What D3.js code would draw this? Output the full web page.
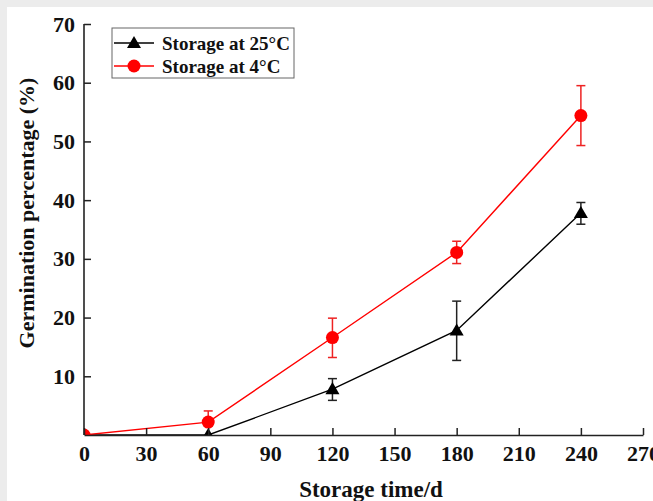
<!DOCTYPE html>
<html>
<head>
<meta charset="utf-8">
<script src="https://cdn.jsdelivr.net/npm/d3@7"></script>
<style>
  html, body { margin: 0; padding: 0; background: #ffffff; }
  svg { display: block; }
  text { font-family: "Liberation Serif", "Times New Roman", serif; font-weight: bold; fill: #111; }
</style>
</head>
<body>
<svg id="chart" width="653" height="501"></svg>
<script>
// ---- data ----
const days = [0, 60, 120, 180, 240];
const storage25 = [0, 0, 7.8, 17.8, 37.8];
const storage25ErrUp = [0, 0, 1.8, 5.0, 1.8];
const storage25ErrDown = [0, 0, 1.9, 5.1, 1.9];
const storage4 = [0, 2.2, 16.6, 31.1, 54.4];
const storage4ErrUp = [0, 1.9, 3.3, 1.9, 5.1];
const storage4ErrDown = [0, 0, 3.4, 1.9, 5.1];
const xTicks = [0, 30, 60, 90, 120, 150, 180, 210, 240, 270];
const yTicks = [10, 20, 30, 40, 50, 60, 70];
const seriesNames = ["Storage at 25\u00B0C", "Storage at 4\u00B0C"];

// ---- layout ----
const svg = d3.select("#chart");
const W = 653, H = 501;
const pLeft = 84, pRight = 643, pTop = 24, pBottom = 435;

// gray frame strips
svg.append("rect").attr("x", 0).attr("y", 0).attr("width", W).attr("height", 7).attr("fill", "#ececec");
svg.append("rect").attr("x", 0).attr("y", 0).attr("width", 7).attr("height", H).attr("fill", "#ececec");

const x = d3.scaleLinear().domain([0, 270]).range([pLeft, pRight]);
const y = d3.scaleLinear().domain([0, 70]).range([pBottom, pTop]);

svg.append("defs").append("clipPath").attr("id", "plotclip")
  .append("rect").attr("x", pLeft).attr("y", pTop).attr("width", pRight - pLeft).attr("height", pBottom - pTop);

const plot = svg.append("g").attr("clip-path", "url(#plotclip)");

const series = [
  { name: seriesNames[0], vals: storage25, up: storage25ErrUp, down: storage25ErrDown, color: "#000000", errColor: "#222222", shape: "tri" },
  { name: seriesNames[1], vals: storage4, up: storage4ErrUp, down: storage4ErrDown, color: "#ff0000", errColor: "#ee2222", shape: "circle" }
];

const line = d3.line().x(d => x(d[0])).y(d => y(d[1]));
const triSym = d3.symbol().type(d3.symbolTriangle).size(85);

series.forEach(s => {
  const pts = days.map((d, i) => [d, s.vals[i], s.up[i], s.down[i]]);
  plot.append("path").datum(pts).attr("d", line)
    .attr("fill", "none").attr("stroke", s.color).attr("stroke-width", 1.4);
});

series.forEach(s => {
  const pts = days.map((d, i) => [d, s.vals[i], s.up[i], s.down[i]]);
  const g = plot.append("g");
  const cap = 4.5;
  pts.filter(p => p[2] > 0 || p[3] > 0).forEach(p => {
    const cx = x(p[0]);
    const yu = y(p[1] + p[2]), yd = y(p[1] - p[3]);
    g.append("line").attr("x1", cx).attr("x2", cx).attr("y1", yu).attr("y2", yd)
      .attr("stroke", s.errColor).attr("stroke-width", 1.5);
    if (p[2] > 0) g.append("line").attr("x1", cx - cap).attr("x2", cx + cap).attr("y1", yu).attr("y2", yu)
      .attr("stroke", s.errColor).attr("stroke-width", 1.5);
    if (p[3] > 0) g.append("line").attr("x1", cx - cap).attr("x2", cx + cap).attr("y1", yd).attr("y2", yd)
      .attr("stroke", s.errColor).attr("stroke-width", 1.5);
  });
});

series.forEach(s => {
  const pts = days.map((d, i) => [d, s.vals[i]]);
  const g = plot.append("g");
  if (s.shape === "tri") {
    g.selectAll("path").data(pts).join("path")
      .attr("d", triSym)
      .attr("transform", d => `translate(${x(d[0])},${y(d[1]) + 1})`)
      .attr("fill", s.color);
  } else {
    g.selectAll("circle").data(pts).join("circle")
      .attr("cx", d => x(d[0])).attr("cy", d => y(d[1])).attr("r", 6.5)
      .attr("fill", s.color);
  }
});

// ---- axes ----
const xAxis = d3.axisBottom(x).tickValues(xTicks).tickSizeInner(-7).tickSizeOuter(0).tickPadding(10);
const yAxis = d3.axisLeft(y).tickValues(yTicks).tickSizeInner(-7).tickSizeOuter(0).tickPadding(9);

const gx = svg.append("g").attr("transform", `translate(0,${pBottom})`).call(xAxis);
const gy = svg.append("g").attr("transform", `translate(${pLeft},0)`).call(yAxis);
[gx, gy].forEach(g => {
  g.select(".domain").attr("stroke", "#222").attr("stroke-width", 1.6);
  g.selectAll(".tick line").attr("stroke", "#222").attr("stroke-width", 1.5);
  g.selectAll(".tick text").attr("font-size", 22).attr("font-family", "Liberation Serif, Times New Roman, serif")
    .attr("font-weight", "bold").attr("fill", "#111");
});
gy.select(".domain").attr("d", `M0,${pBottom}V${pTop}`);

// axis titles
svg.append("text").attr("x", 371).attr("y", 497).attr("text-anchor", "middle")
  .attr("font-size", 23).text("Storage time/d");
svg.append("text").attr("transform", `translate(34,${213}) rotate(-90)`).attr("text-anchor", "middle")
  .attr("font-size", 22).text("Germination percentage (%)");

// ---- legend ----
const lg = svg.append("g");
lg.append("rect").attr("x", 112).attr("y", 28).attr("width", 182).attr("height", 50)
  .attr("fill", "#fff").attr("stroke", "#666").attr("stroke-width", 1);
series.forEach((s, i) => {
  const ly = 43 + i * 23;
  lg.append("line").attr("x1", 114).attr("x2", 154).attr("y1", ly).attr("y2", ly)
    .attr("stroke", s.color).attr("stroke-width", 1.4);
  if (s.shape === "tri") {
    lg.append("path").attr("d", triSym).attr("transform", `translate(134,${ly + 1})`).attr("fill", s.color);
  } else {
    lg.append("circle").attr("cx", 134).attr("cy", ly).attr("r", 6.5).attr("fill", s.color);
  }
  lg.append("text").attr("x", 162).attr("y", ly).attr("dy", "0.35em").attr("font-size", 19).text(s.name);
});
</script>
</body>
</html>
